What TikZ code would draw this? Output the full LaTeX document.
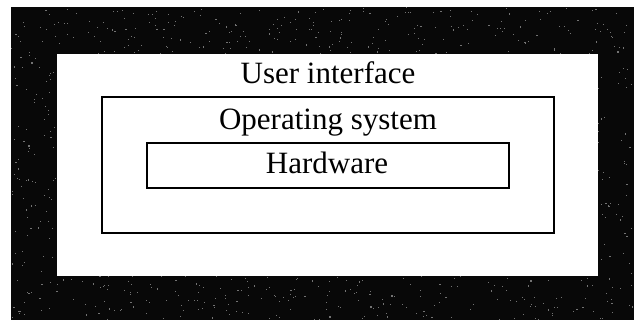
\documentclass[tikz,border=0pt]{standalone}
\usepackage{fontspec}
\setmainfont{Liberation Serif}
\definecolor{framedark}{gray}{0.03}
\definecolor{speck}{gray}{0.45}
\begin{document}
\begin{tikzpicture}[x=1pt,y=-1pt,
  caption/.style={font=\fontsize{31}{37}\selectfont, inner sep=0pt, anchor=base},
  layerbox/.style={draw=black, line width=1.6pt, inner sep=0pt, fill=white}]
\useasboundingbox (0,0) rectangle (634,320);
\fill[white] (0,0) rectangle (634,320);
% dark surround with a sparse grain of grey dots
\fill[framedark] (11,7) rectangle (634,320);
\pgfmathsetseed{7}
\foreach \k in {1,...,1600}{
  \pgfmathsetmacro\px{11+622*rnd}
  \pgfmathsetmacro\py{7+312*rnd}
  \fill[speck] (\px,\py) rectangle ++(1.1,1.1);
}
% outer layer: user interface
\node[fill=white, inner sep=0pt, minimum width=541pt, minimum height=222pt] (ui) at (327.5,165) {};
% middle layer: operating system
\node[layerbox, minimum width=452pt, minimum height=136pt] (os) at (328,165) {};
% inner layer: hardware
\node[layerbox, line width=1.9pt, minimum width=362pt, minimum height=45pt] (hw) at (328,165.5) {};
\node[caption] (uitext) at (328,84) {User interface};
\node[caption] (ostext) at (328,130) {Operating system};
\node[caption] (hwtext) at (327,174) {Hardware};
\end{tikzpicture}
\end{document}
